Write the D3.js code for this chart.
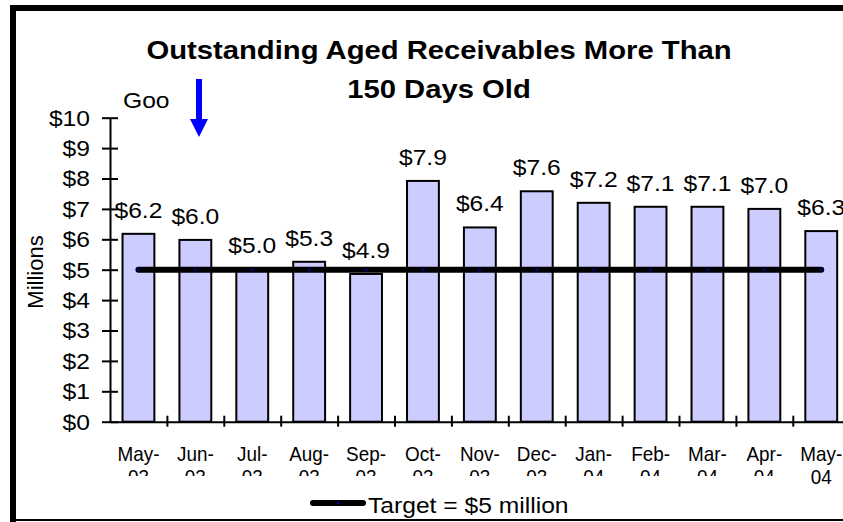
<!DOCTYPE html>
<html>
<head>
<meta charset="utf-8">
<script src="https://cdn.jsdelivr.net/npm/d3@7"></script>
<style>
  html, body { margin: 0; padding: 0; background: #fff; }
  svg { display: block; }
  text { font-family: "Liberation Sans", Arial, sans-serif; fill: #000; }
</style>
</head>
<body>
<svg id="chart" width="843" height="522"></svg>
<script>
// ---- data ----
const categories = ["May-03","Jun-03","Jul-03","Aug-03","Sep-03","Oct-03","Nov-03","Dec-03","Jan-04","Feb-04","Mar-04","Apr-04","May-04"];
const receivables = [6.18, 5.98, 5.02, 5.26, 4.86, 7.92, 6.39, 7.58, 7.20, 7.07, 7.07, 7.00, 6.27];
const targetValues = [5, 5, 5, 5, 5, 5, 5, 5, 5, 5, 5, 5, 5];
const yTicks = [0, 1, 2, 3, 4, 5, 6, 7, 8, 9, 10];
const yTickLabels = ["$0","$1","$2","$3","$4","$5","$6","$7","$8","$9","$10"];
const titleLines = ["Outstanding Aged Receivables More Than", "150 Days Old"];
const yAxisTitle = "Millions";
const legendLabel = "Target = $5 million";
const noteText = "Goo";

// ---- layout ----
const svg = d3.select("#chart");
const W = 843, H = 522;
const sx = 1.12;       // horizontal stretch of regular text
const sxTitle = 1.17;  // horizontal stretch of title
const sxCat = 0.9;     // category labels are narrower
const x0 = 110, step = 56.9;

const x = d3.scaleBand().domain(categories)
  .range([x0, x0 + categories.length * step])
  .paddingInner(0.44).paddingOuter(0.22);
const y = d3.scaleLinear().domain([0, 10]).range([421.7, 117.7]);
const cx = c => x(c) + x.bandwidth() / 2;

svg.append("rect").attr("width", W).attr("height", H).attr("fill", "#fff");

// frame
svg.append("rect").attr("x", 10).attr("y", 5).attr("width", W - 10).attr("height", 6).attr("fill", "#000");
svg.append("rect").attr("x", 10).attr("y", 5).attr("width", 6).attr("height", H - 5).attr("fill", "#000");
svg.append("rect").attr("x", 10).attr("y", 519).attr("width", W - 10).attr("height", 2).attr("fill", "#000");

// title
titleLines.forEach((t, i) => {
  svg.append("text")
    .attr("transform", `translate(439,${i === 0 ? 59 : 98}) scale(${sxTitle},1)`)
    .attr("text-anchor", "middle")
    .attr("font-size", 25).attr("font-weight", "bold")
    .text(t);
});

// note + arrow
svg.append("text")
  .attr("transform", `translate(123,108) scale(${sx},1)`)
  .attr("font-size", 22).text(noteText);
svg.append("path")
  .attr("d", "M196,79 L202,79 L202,119 L208,119 L199,137 L190,119 L196,119 Z")
  .attr("fill", "#0000FF");

// bars
svg.append("g").selectAll("rect").data(categories).join("rect")
  .attr("x", c => x(c))
  .attr("y", (c, i) => y(receivables[i]))
  .attr("width", x.bandwidth())
  .attr("height", (c, i) => y(0) - y(receivables[i]))
  .attr("fill", "#CCCCFF")
  .attr("stroke", "#000").attr("stroke-width", 2);

// value labels
svg.append("g").selectAll("text").data(categories).join("text")
  .attr("transform", (c, i) => `translate(${cx(c)},${y(receivables[i]) - 16}) scale(${sx},1)`)
  .attr("text-anchor", "middle")
  .attr("font-size", 22)
  .text((c, i) => "$" + receivables[i].toFixed(1));

// y axis
const gy = svg.append("g").attr("transform", `translate(${x0},0)`)
  .call(d3.axisLeft(y).tickValues(yTicks).tickFormat((d, i) => yTickLabels[i]).tickSize(8).tickSizeOuter(0));
gy.select(".domain").attr("stroke", "#000").attr("stroke-width", 2);
gy.selectAll(".tick line").attr("x1", 8).attr("stroke", "#000").attr("stroke-width", 2);
gy.selectAll(".tick text")
  .attr("x", -20 / sx).attr("dy", "0.34em")
  .attr("transform", `scale(${sx},1)`)
  .attr("font-size", 22).attr("font-family", "Liberation Sans, Arial, sans-serif").attr("fill", "#000");

// y axis title
svg.append("text")
  .attr("transform", "translate(43,272) rotate(-90)")
  .attr("text-anchor", "middle").attr("font-size", 22)
  .text(yAxisTitle);

// x axis line + boundary ticks
const bScale = d3.scaleLinear().domain([0, categories.length]).range([x0, x0 + categories.length * step]);
const gb = svg.append("g").attr("transform", `translate(0,${y(0)})`)
  .call(d3.axisBottom(bScale).tickValues(d3.range(1, categories.length + 1)).tickFormat("").tickSize(5).tickSizeOuter(0));
gb.select(".domain").attr("stroke", "#000").attr("stroke-width", 2);
gb.selectAll(".tick line").attr("y1", -6).attr("stroke", "#000").attr("stroke-width", 2);

// category labels
svg.append("defs").append("clipPath").attr("id", "lblclip")
  .append("rect").attr("x", -60).attr("y", -10).attr("width", 120).attr("height", 476 - y(0) + 10);
const gx = svg.append("g").attr("transform", `translate(0,${y(0)})`)
  .call(d3.axisBottom(x).tickSize(0).tickSizeOuter(0));
gx.select(".domain").remove();
gx.selectAll(".tick").each(function(d, i) {
  const g = d3.select(this);
  if (i < categories.length - 1) g.attr("clip-path", "url(#lblclip)");
  const t = g.select("text");
  t.text(null).attr("y", null).attr("dy", null)
    .attr("transform", `translate(0,${461 - y(0)}) scale(${sxCat},1)`)
    .attr("font-size", 21).attr("font-family", "Liberation Sans, Arial, sans-serif").attr("fill", "#000")
    .attr("text-anchor", "middle");
  const parts = d.split("-");
  t.append("tspan").attr("x", 0).attr("y", 0).text(parts[0] + "-");
  t.append("tspan").attr("x", 0).attr("y", 23).text(parts[1]);
});

// target line
const line = d3.line().x(d => cx(d.c)).y(d => y(d.v));
const tData = categories.map((c, i) => ({ c, v: targetValues[i] }));
svg.append("path").datum(tData).attr("d", line)
  .attr("fill", "none").attr("stroke", "#000").attr("stroke-width", 6).attr("stroke-linecap", "round");
svg.append("g").selectAll("circle").data(tData).join("circle")
  .attr("cx", d => cx(d.c)).attr("cy", d => y(d.v)).attr("r", 1.6).attr("fill", "#000080");

// legend
svg.append("line").attr("x1", 313).attr("x2", 363).attr("y1", 503).attr("y2", 503)
  .attr("stroke", "#000").attr("stroke-width", 6).attr("stroke-linecap", "round");
svg.append("circle").attr("cx", 338).attr("cy", 503).attr("r", 1.2).attr("fill", "#0000CC");
svg.append("text")
  .attr("transform", `translate(368,513) scale(${sx},1)`)
  .attr("font-size", 22).text(legendLabel);
</script>
</body>
</html>
